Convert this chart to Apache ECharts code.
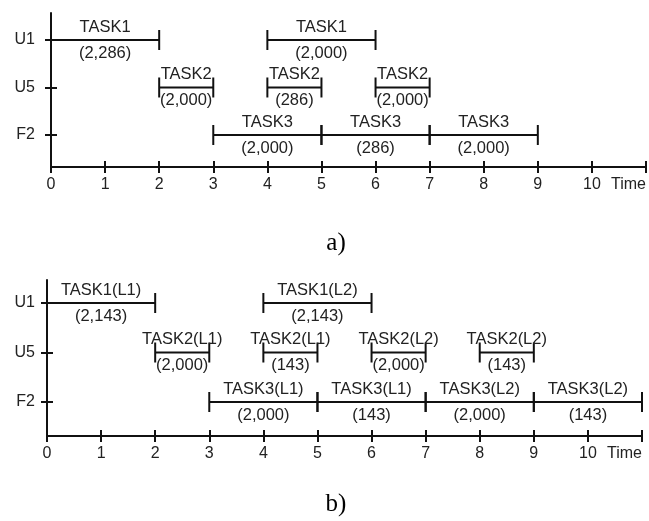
<!DOCTYPE html>
<html>
<head>
<meta charset="utf-8">
<script src="https://cdn.jsdelivr.net/npm/echarts@6/dist/echarts.min.js"></script>
<style>
  html, body { margin: 0; padding: 0; background: #fff; }
  #chart { width: 649px; height: 521px; }
</style>
</head>
<body>
<div id="chart"></div>
<script>
// Resources on the vertical axis, bottom to top
const resources = ['F2', 'U5', 'U1'];
const timeMax = 11;
const timeName = 'Time';

// Schedule a)
const resA   = ['U1', 'U1', 'U5', 'U5', 'U5', 'F2', 'F2', 'F2'];
const startA = [0, 4, 2, 4, 6, 3, 5, 7];
const endA   = [2, 6, 3, 5, 7, 5, 7, 9];
const taskA  = ['TASK1', 'TASK1', 'TASK2', 'TASK2', 'TASK2', 'TASK3', 'TASK3', 'TASK3'];
const rateA  = ['(2,286)', '(2,000)', '(2,000)', '(286)', '(2,000)', '(2,000)', '(286)', '(2,000)'];

// Schedule b)
const resB   = ['U1', 'U1', 'U5', 'U5', 'U5', 'U5', 'F2', 'F2', 'F2', 'F2'];
const startB = [0, 4, 2, 4, 6, 8, 3, 5, 7, 9];
const endB   = [2, 6, 3, 5, 7, 9, 5, 7, 9, 11];
const taskB  = ['TASK1(L1)', 'TASK1(L2)', 'TASK2(L1)', 'TASK2(L1)', 'TASK2(L2)', 'TASK2(L2)',
                'TASK3(L1)', 'TASK3(L1)', 'TASK3(L2)', 'TASK3(L2)'];
const rateB  = ['(2,143)', '(2,143)', '(2,000)', '(143)', '(2,000)', '(143)',
                '(2,000)', '(143)', '(2,000)', '(143)'];

const FONT = '"Liberation Sans", Arial, sans-serif';
const INK = '#111';
const TEXT = '#222';
const LABEL_SIZE = 16.5;

function spans(res, start, end) {
  return res.map((r, i) => [start[i], end[i], resources.indexOf(r) + 1]);
}

// Each span: horizontal bar with end caps, task name above and rate below
function spanRenderer(tasks, rates) {
  return function (params, api) {
    const y = api.value(2);
    const p0 = api.coord([api.value(0), y]);
    const p1 = api.coord([api.value(1), y]);
    const mid = (p0[0] + p1[0]) / 2;
    const cap = 10;
    const ls = { stroke: INK, lineWidth: 2 };
    return {
      type: 'group',
      children: [
        { type: 'line', shape: { x1: p0[0], y1: p0[1], x2: p1[0], y2: p1[1] }, style: ls },
        { type: 'line', shape: { x1: p0[0], y1: p0[1] - cap, x2: p0[0], y2: p0[1] + cap }, style: ls },
        { type: 'line', shape: { x1: p1[0], y1: p1[1] - cap, x2: p1[0], y2: p1[1] + cap }, style: ls },
        { type: 'text', x: mid, y: p0[1] - 13,
          style: { text: tasks[params.dataIndex], align: 'center', verticalAlign: 'middle',
                   fontSize: LABEL_SIZE, fontFamily: FONT, fill: TEXT } },
        { type: 'text', x: mid, y: p0[1] + 13,
          style: { text: rates[params.dataIndex], align: 'center', verticalAlign: 'middle',
                   fontSize: LABEL_SIZE, fontFamily: FONT, fill: TEXT } }
      ]
    };
  };
}

// Two overlapping time axes per panel so the ticks cross the axis line
function timeAxes(gridIndex) {
  const base = {
    gridIndex, type: 'value', position: 'bottom', min: 0, max: timeMax, interval: 1,
    splitLine: { show: false }
  };
  return [
    Object.assign({}, base, {
      axisLine: { show: true, lineStyle: { color: INK, width: 2 } },
      axisTick: { show: true, length: 6, lineStyle: { color: INK, width: 2 } },
      axisLabel: { margin: 10, fontSize: 16, fontFamily: FONT, color: TEXT,
                   alignMaxLabel: 'right',
                   formatter: v => (v === timeMax ? timeName : String(v)) }
    }),
    Object.assign({}, base, {
      axisLine: { show: false },
      axisTick: { show: true, inside: true, length: 6, lineStyle: { color: INK, width: 2 } },
      axisLabel: { show: false }
    })
  ];
}

function resourceAxes(gridIndex, min, max, margin) {
  const base = {
    gridIndex, type: 'value', position: 'left', min, max,
    splitLine: { show: false }
  };
  return [
    Object.assign({}, base, {
      axisLine: { show: true, lineStyle: { color: INK, width: 2 } },
      axisTick: { show: true, length: 6, customValues: [1, 2, 3], lineStyle: { color: INK, width: 2 } },
      axisLabel: { show: true, customValues: [1, 2, 3], margin, fontSize: 16, fontFamily: FONT, color: TEXT,
                   formatter: v => resources[Math.round(v) - 1] }
    }),
    Object.assign({}, base, {
      axisLine: { show: false },
      axisTick: { show: true, inside: true, length: 6, customValues: [1, 2, 3], lineStyle: { color: INK, width: 2 } },
      axisLabel: { show: false }
    })
  ];
}

const chart = echarts.init(document.getElementById('chart'), null, { renderer: 'canvas' });

chart.setOption({
  animation: false,
  backgroundColor: '#fff',
  grid: [
    { left: 51, top: 13, width: 596, height: 154 },
    { left: 47, top: 280, width: 595, height: 156 }
  ],
  xAxis: [...timeAxes(0), ...timeAxes(1)],
  yAxis: [...resourceAxes(0, 0.326, 3.568, 16), ...resourceAxes(1, 0.313, 3.465, 12)],
  graphic: [
    { type: 'text', x: 336, y: 243,
      style: { text: 'a)', align: 'center', verticalAlign: 'middle', fontSize: 25,
               fontFamily: '"Liberation Serif", "Times New Roman", serif', fill: '#000' } },
    { type: 'text', x: 336, y: 504,
      style: { text: 'b)', align: 'center', verticalAlign: 'middle', fontSize: 25,
               fontFamily: '"Liberation Serif", "Times New Roman", serif', fill: '#000' } }
  ],
  series: [
    { type: 'custom', xAxisIndex: 0, yAxisIndex: 0, clip: false,
      encode: { x: [0, 1], y: 2 },
      renderItem: spanRenderer(taskA, rateA),
      data: spans(resA, startA, endA) },
    { type: 'custom', xAxisIndex: 2, yAxisIndex: 2, clip: false,
      encode: { x: [0, 1], y: 2 },
      renderItem: spanRenderer(taskB, rateB),
      data: spans(resB, startB, endB) }
  ]
});
</script>
</body>
</html>
